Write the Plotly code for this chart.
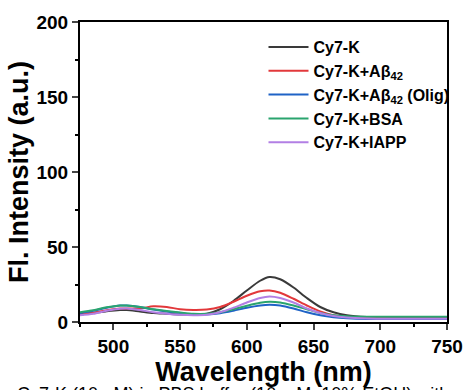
import plotly.graph_objects as go

wavelength = [475, 485, 495, 505, 510, 520, 530, 540, 550, 560, 570, 580, 590, 600, 610, 617, 625, 635, 645, 655, 665, 675, 690, 710, 730, 750]

cy7k      = [5.0, 6.0, 7.2, 8.0, 8.0, 7.0, 6.0, 5.5, 5.0, 5.0, 5.5, 8.5, 14.0, 21.0, 27.5, 30.0, 28.5, 23.0, 16.0, 10.0, 6.5, 4.5, 3.3, 3.0, 3.0, 3.0]
cy7k_ab   = [5.0, 6.2, 7.8, 9.0, 9.0, 9.0, 10.5, 10.0, 8.5, 8.0, 8.3, 10.0, 13.5, 17.5, 20.5, 21.0, 19.5, 15.5, 11.0, 7.0, 4.5, 3.2, 2.6, 2.4, 2.4, 2.4]
cy7k_olig = [6.0, 7.5, 9.5, 11.0, 11.0, 10.0, 8.3, 7.0, 6.0, 5.0, 5.0, 5.8, 7.5, 9.5, 11.0, 11.5, 11.0, 9.0, 6.5, 4.5, 3.2, 2.5, 2.0, 2.0, 2.0, 2.0]
cy7k_bsa  = [6.5, 7.8, 9.8, 11.0, 11.0, 10.0, 8.5, 7.3, 6.3, 5.5, 5.5, 6.5, 8.5, 10.8, 12.8, 13.5, 13.0, 11.0, 8.5, 6.0, 4.5, 3.8, 3.5, 3.5, 3.5, 3.5]
cy7k_iapp = [4.5, 5.5, 7.5, 8.8, 9.0, 8.0, 6.5, 5.5, 4.8, 4.5, 4.8, 6.5, 9.5, 13.0, 16.0, 17.0, 16.0, 13.0, 9.0, 6.0, 4.0, 3.0, 2.4, 2.2, 2.2, 2.2]

series_names = ["Cy7-K", "Cy7-K+Aβ<sub>42</sub>", "Cy7-K+Aβ<sub>42</sub> (Olig)", "Cy7-K+BSA", "Cy7-K+IAPP"]
series_values = [cy7k, cy7k_ab, cy7k_olig, cy7k_bsa, cy7k_iapp]
colors = ["#3a3a3a", "#e2383b", "#1f63c6", "#2aa46e", "#b27fe4"]

x_ticks = [500, 550, 600, 650, 700, 750]
y_ticks = [0, 50, 100, 150, 200]

fig = go.Figure()
for name, vals, col in zip(series_names, series_values, colors):
    fig.add_trace(go.Scatter(x=wavelength, y=vals, mode="lines", name=name,
                             line=dict(color=col, width=2, shape="spline", smoothing=0.8)))

fig.update_layout(
    width=475, height=390,
    margin=dict(l=80, r=18, t=19, b=67),
    plot_bgcolor="white", paper_bgcolor="white",
    font=dict(family="Liberation Sans, Arial, sans-serif", color="black"),
    showlegend=True,
    legend=dict(x=0.5, y=0.973, xanchor="left", yanchor="top",
                font=dict(size=16, family="Liberation Sans, Arial, sans-serif", color="black", weight="bold"),
                bgcolor="rgba(0,0,0,0)", tracegroupgap=0, itemwidth=40),
)

fig.update_xaxes(
    range=[475, 750], tickvals=x_ticks, ticks="outside", ticklen=6, tickwidth=2,
    showline=True, linewidth=2, linecolor="black", mirror=True, showgrid=False, zeroline=False,
    tickfont=dict(size=19, weight="bold"),
    minor=dict(dtick=25, tick0=500, ticks="outside", ticklen=3, tickwidth=2, tickcolor="black"),
    title=dict(text="<b>Wavelength (nm)</b>", font=dict(size=27), standoff=2),
)
fig.update_yaxes(
    range=[0, 200], tickvals=y_ticks, ticks="outside", ticklen=6, tickwidth=2,
    showline=True, linewidth=2, linecolor="black", mirror=True, showgrid=False, zeroline=False,
    tickfont=dict(size=19, weight="bold"),
    minor=dict(dtick=25, tick0=0, ticks="outside", ticklen=3, tickwidth=2, tickcolor="black"),
    title=dict(text="<b>Fl. Intensity (a.u.)</b>", font=dict(size=27), standoff=0),
)

fig.add_annotation(
    text="Cy7-K (10 μM) in PBS buffer (10 mM, 10% EtOH) with",
    xref="paper", yref="paper", x=0.418, y=-0.2, xanchor="center", yanchor="top",
    showarrow=False, font=dict(size=18, color="black"),
)

fig.write_html("out.html")
